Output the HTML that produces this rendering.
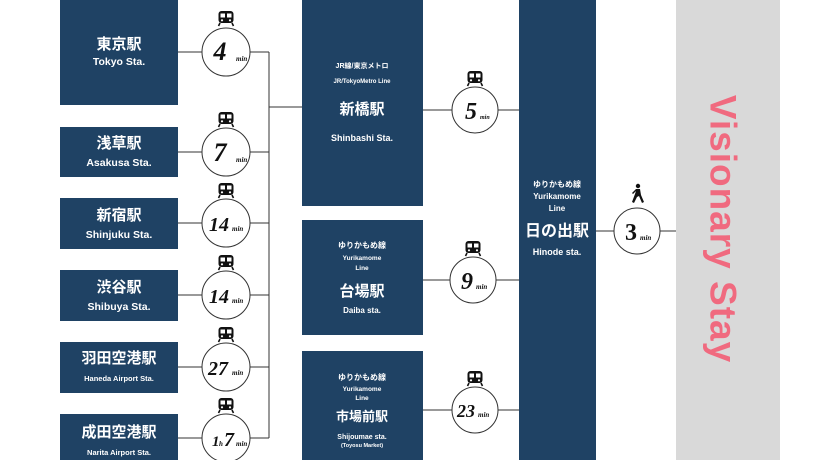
<!DOCTYPE html>
<html><head><meta charset="utf-8"><style>
html,body{margin:0;padding:0;background:#fff;}
svg{display:block;font-family:"Liberation Sans","Noto Sans CJK JP",sans-serif;}
</style></head><body>
<svg width="840" height="460" viewBox="0 0 840 460" xmlns="http://www.w3.org/2000/svg">
<defs>
<g id="tr">
<rect x="-7.5" y="0" width="15" height="12" rx="3" fill="#111"/>
<rect x="-5.5" y="2.5" width="4.5" height="4" fill="#fff"/>
<rect x="1" y="2.5" width="4.5" height="4" fill="#fff"/>
<circle cx="-4" cy="9.3" r="1.1" fill="#fff"/><circle cx="4" cy="9.3" r="1.1" fill="#fff"/>
<path d="M-6 12 L-7.5 15 M6 12 L7.5 15" stroke="#111" stroke-width="1.6"/>
</g>
</defs>
<rect x="676" y="0" width="104" height="460" fill="#d9d9d9"/>
<text transform="translate(723,229) rotate(90)" text-anchor="middle" dominant-baseline="central" font-size="37" font-weight="bold" fill="#f06a7f" letter-spacing="1">Visionary Stay</text>
<g stroke="#333" stroke-width="1" fill="none">
<path d="M178 52H202 M250 52H269 M178 152H202 M250 152H269 M178 223H202 M250 223H269 M178 295H202 M250 295H269 M178 367H202 M250 367H269 M178 438H202 M250 438H269 M269 52V438 M269 107H302"/>
<path d="M423 110H452 M498 110H519 M423 280H450 M496 280H519 M423 410H452 M498 410H519 M596 231H614 M660 231H676"/>
</g>
<g fill="#1f4264">
<rect x="60" y="0" width="118" height="105"/>
<rect x="60" y="127" width="118" height="50"/>
<rect x="60" y="198" width="118" height="51"/>
<rect x="60" y="270" width="118" height="51"/>
<rect x="60" y="342" width="118" height="51"/>
<rect x="60" y="414" width="118" height="46"/>
<rect x="302" y="0" width="121" height="206"/>
<rect x="302" y="220" width="121" height="115"/>
<rect x="302" y="351" width="121" height="109"/>
<rect x="519" y="0" width="77" height="460"/>
</g>
<g fill="#fff" text-anchor="middle" font-weight="bold">
<text x="119" y="49" font-size="15">東京駅</text><text x="119" y="65" font-size="10.5">Tokyo Sta.</text>
<text x="119" y="148" font-size="15">浅草駅</text><text x="119" y="166" font-size="10.5">Asakusa Sta.</text>
<text x="119" y="220" font-size="15">新宿駅</text><text x="119" y="238" font-size="10.5">Shinjuku Sta.</text>
<text x="119" y="292" font-size="15">渋谷駅</text><text x="119" y="310" font-size="10.5">Shibuya Sta.</text>
<text x="119" y="363" font-size="15">羽田空港駅</text><text x="119" y="381" font-size="7.5">Haneda Airport Sta.</text>
<text x="119" y="437" font-size="15">成田空港駅</text><text x="119" y="455" font-size="7.5">Narita Airport Sta.</text>
<text x="362" y="68" font-size="7">JR線/東京メトロ</text><text x="362" y="83" font-size="6">JR/TokyoMetro Line</text>
<text x="362" y="114" font-size="15">新橋駅</text><text x="362" y="141" font-size="9">Shinbashi Sta.</text>
<text x="362" y="248" font-size="8">ゆりかもめ線</text><text x="362" y="260" font-size="6.5">Yurikamome</text><text x="362" y="270" font-size="6.5">Line</text>
<text x="362" y="296" font-size="15">台場駅</text><text x="362" y="313" font-size="8">Daiba sta.</text>
<text x="362" y="380" font-size="8">ゆりかもめ線</text><text x="362" y="391" font-size="6.5">Yurikamome</text><text x="362" y="400" font-size="6.5">Line</text>
<text x="362" y="421" font-size="13">市場前駅</text><text x="362" y="439" font-size="7">Shijoumae sta.</text><text x="362" y="447" font-size="5.5">(Toyosu Market)</text>
<text x="557" y="187" font-size="8">ゆりかもめ線</text><text x="557" y="199" font-size="8">Yurikamome</text><text x="557" y="211" font-size="8">Line</text>
<text x="557" y="236" font-size="16">日の出駅</text><text x="557" y="255" font-size="9">Hinode sta.</text>
</g>
<g fill="#fff" stroke="#333" stroke-width="1">
<circle cx="226" cy="52" r="24"/><circle cx="226" cy="152" r="24"/><circle cx="226" cy="223" r="24"/>
<circle cx="226" cy="295" r="24"/><circle cx="226" cy="367" r="24"/><circle cx="226" cy="438" r="24"/>
<circle cx="475" cy="110" r="23"/><circle cx="473" cy="280" r="23"/><circle cx="475" cy="410" r="23"/>
<circle cx="637" cy="231" r="23"/>
</g>
<use href="#tr" x="226" y="11"/><use href="#tr" x="226" y="112"/><use href="#tr" x="226" y="183"/>
<use href="#tr" x="226" y="255"/><use href="#tr" x="226" y="327"/><use href="#tr" x="226" y="398"/>
<use href="#tr" x="475" y="71"/><use href="#tr" x="473" y="241"/><use href="#tr" x="475" y="371"/>
<g transform="translate(637,193)" fill="#111">
<circle cx="1" cy="-7" r="2.2"/>
<path d="M-1 -4 L3 -4 L4 2 L7 9 L5 10 L2 3 L0 4 L-3 10 L-5 9 L-2 1 L-1 -2 L-4 1 L-5 0 Z"/>
</g>
<g fill="#111" font-style="italic" font-weight="bold" font-family="'Liberation Serif',serif">
<text x="220" y="60" font-size="26" text-anchor="middle">4</text><text x="236" y="61" font-size="7">min</text>
<text x="220" y="161" font-size="26" text-anchor="middle">7</text><text x="236" y="162" font-size="7">min</text>
<text x="219" y="231" font-size="20" text-anchor="middle">14</text><text x="232" y="231" font-size="7">min</text>
<text x="219" y="303" font-size="20" text-anchor="middle">14</text><text x="232" y="303" font-size="7">min</text>
<text x="218" y="375" font-size="20" text-anchor="middle">27</text><text x="232" y="375" font-size="7">min</text>
<text x="212" y="446" font-size="15">1</text><text x="219" y="446" font-size="7">h</text><text x="224" y="446" font-size="20">7</text><text x="236" y="446" font-size="7">min</text>
<text x="471" y="119" font-size="24" text-anchor="middle">5</text><text x="480" y="119" font-size="6">min</text>
<text x="467" y="289" font-size="24" text-anchor="middle">9</text><text x="476" y="289" font-size="7">min</text>
<text x="466" y="417" font-size="18" text-anchor="middle">23</text><text x="478" y="417" font-size="7">min</text>
<text x="631" y="240" font-size="24" text-anchor="middle" font-style="normal">3</text><text x="640" y="240" font-size="7">min</text>
</g>
</svg>
</body></html>
